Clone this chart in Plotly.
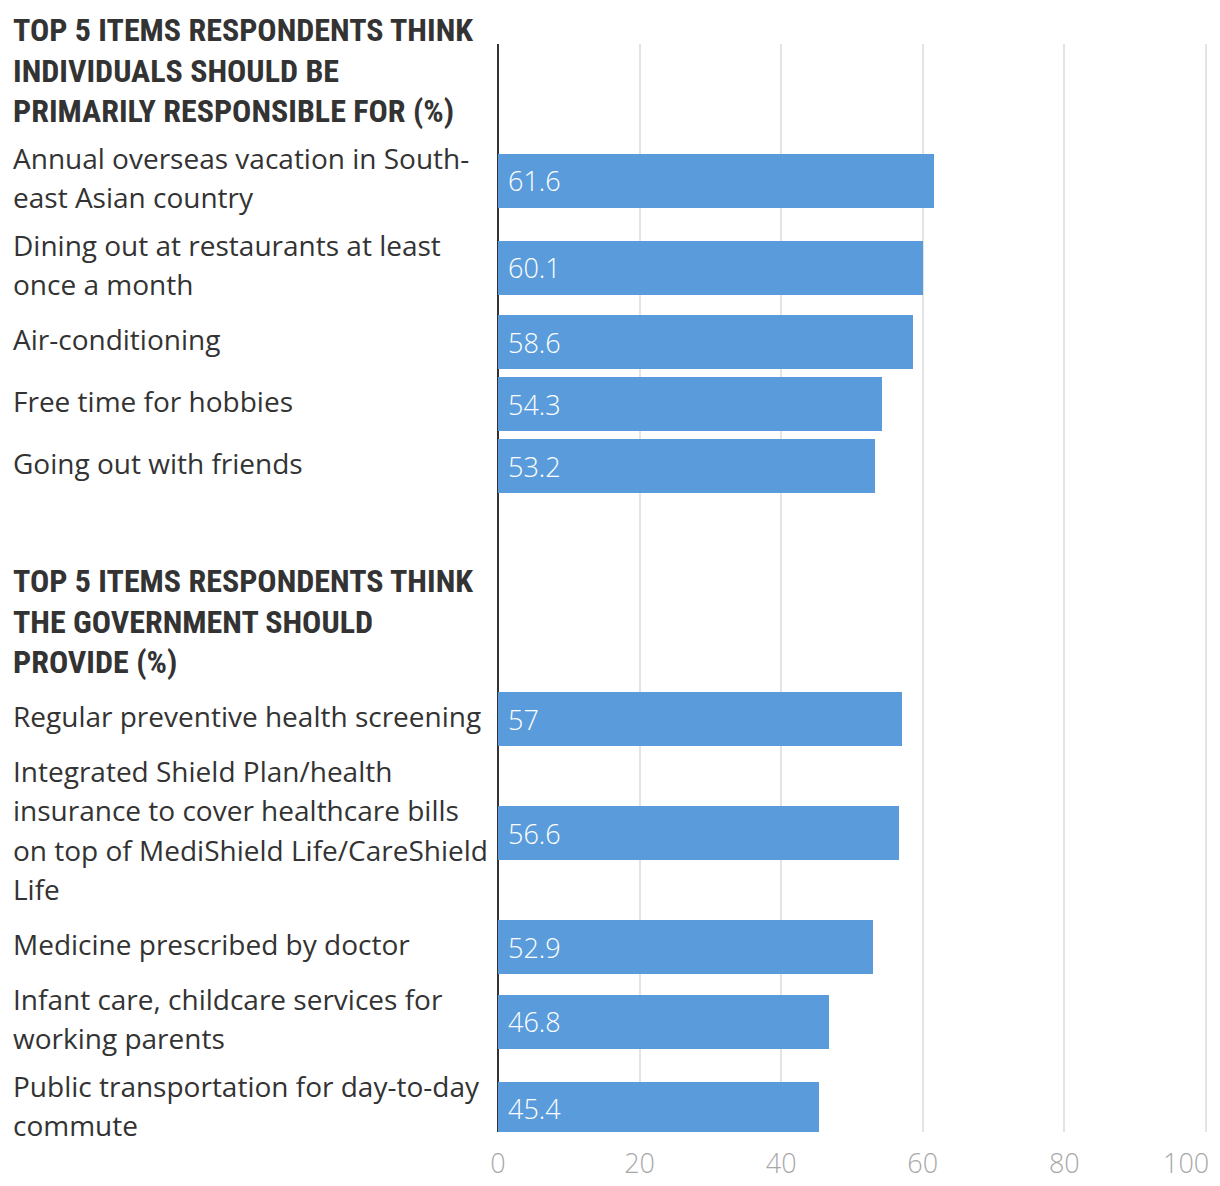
import plotly.graph_objects as go

# ---- data ----
header1 = ["TOP 5 ITEMS RESPONDENTS THINK", "INDIVIDUALS SHOULD BE", "PRIMARILY RESPONSIBLE FOR (%)"]
labels1 = [
    "Annual overseas vacation in South-\neast Asian country",
    "Dining out at restaurants at least\nonce a month",
    "Air-conditioning",
    "Free time for hobbies",
    "Going out with friends",
]
values1 = [61.6, 60.1, 58.6, 54.3, 53.2]

header2 = ["TOP 5 ITEMS RESPONDENTS THINK", "THE GOVERNMENT SHOULD", "PROVIDE (%)"]
labels2 = [
    "Regular preventive health screening",
    "Integrated Shield Plan/health\ninsurance to cover healthcare bills\non top of MediShield Life/CareShield\nLife",
    "Medicine prescribed by doctor",
    "Infant care, childcare services for\nworking parents",
    "Public transportation for day-to-day\ncommute",
]
values2 = [57, 56.6, 52.9, 46.8, 45.4]

tick_vals = [0, 20, 40, 60, 80, 100]
tick_text = ["0", "20", "40", "60", "80", "100"]

# ---- styling / layout constants ----
W, H = 1220, 1186
PLOT_L, PLOT_R, PLOT_T, PLOT_B = 498, 1207, 44, 1132
PH = PLOT_B - PLOT_T
BAR_COLOR = "#5a9cdb"
TEXT_COLOR = "#333333"
TICK_COLOR = "#a8a8a8"
LABEL_FONT = "'Open Sans', 'Noto Sans', sans-serif"
HEAD_FONT = "'Roboto Condensed', Roboto, sans-serif"
LINE_H = 39.5
HEAD_LINE = 40.5
BAR_W = 54
LABEL_X = 12

fig = go.Figure()
annotations = []

def py(pix):
    return 1 - (pix - PLOT_T) / PH

def add_header(lines, top):
    for i, ln in enumerate(lines):
        yc = top + 20 + i * HEAD_LINE
        annotations.append(dict(
            text=ln, xref="paper", x=0, xanchor="left", xshift=LABEL_X - PLOT_L - 1,
            yref="paper", y=py(yc), yanchor="middle", showarrow=False,
            font=dict(family=HEAD_FONT, size=32, color=TEXT_COLOR, weight="bold"),
        ))
    return top + 127

def add_group(labels, values, top):
    centers = []
    y = top
    for lab in labels:
        lines = lab.split("\n")
        n = len(lines)
        h = max(62, LINE_H * n + 8)
        c = y + h / 2
        centers.append(c - PLOT_T)
        for i, ln in enumerate(lines):
            yc = c - 3 - (n - 1) / 2 * LINE_H + i * LINE_H
            annotations.append(dict(
                text=ln, xref="paper", x=0, xanchor="left", xshift=LABEL_X - PLOT_L - 1,
                yref="paper", y=py(yc), yanchor="middle", showarrow=False,
                font=dict(family=LABEL_FONT, size=28, color=TEXT_COLOR),
            ))
        y += h
    fig.add_trace(go.Bar(
        x=values, y=centers, orientation="h", width=BAR_W,
        marker=dict(color=BAR_COLOR, line=dict(width=0)),
        hoverinfo="skip", showlegend=False,
    ))
    for v, c in zip(values, centers):
        annotations.append(dict(
            text=f"{v:g}", xref="x", x=0, xanchor="left", xshift=8,
            yref="y", y=c, yanchor="middle", showarrow=False,
            font=dict(family=LABEL_FONT, size=27, color="white", weight=300),
        ))
    return y

y = add_header(header1, 10)
y = add_group(labels1, values1, y)
y = add_header(header2, y + 64)
y = add_group(labels2, values2, y)

# last tick label kept inside the figure (right-aligned to its gridline)
annotations.append(dict(
    text=tick_text[-1], xref="x", x=tick_vals[-1], xanchor="right", xshift=5,
    yref="paper", y=0, yanchor="top", yshift=-10, showarrow=False,
    font=dict(family=LABEL_FONT, size=27, color=TICK_COLOR, weight=300),
))

fig.update_layout(
    width=W, height=H,
    margin=dict(l=PLOT_L, r=W - PLOT_R, t=PLOT_T, b=H - PLOT_B, pad=0, autoexpand=False),
    paper_bgcolor="white", plot_bgcolor="white",
    annotations=annotations,
    bargap=0,
    xaxis=dict(
        range=[0, 100.15], tickvals=tick_vals,
        ticktext=tick_text[:-1] + [""],
        showgrid=True, gridcolor="#e4e4e4", gridwidth=2,
        zeroline=True, zerolinecolor="#333333", zerolinewidth=2,
        showline=False, ticks="", ticklabelstandoff=13,
        automargin=False,
        tickfont=dict(family=LABEL_FONT, size=27, color=TICK_COLOR, weight=300),
        fixedrange=True,
    ),
    yaxis=dict(
        range=[PH, 0], showgrid=False, zeroline=False, automargin=False,
        showticklabels=False, ticks="", showline=False, fixedrange=True,
    ),
)

fig.write_html("out.html")
